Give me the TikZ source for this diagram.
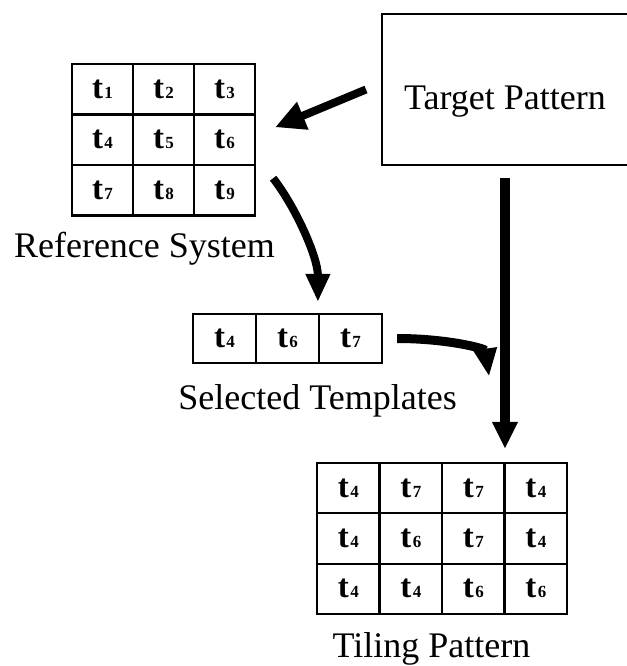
\documentclass[tikz,border=0pt]{standalone}
\usepackage{fontspec}
\setmainfont{Liberation Serif}
\usetikzlibrary{arrows.meta}

% one template label: a large bold t followed by a small bold index
\newcommand\tcell[1]{{\fontsize{33}{34}\selectfont\bfseries t}{\fontsize{17}{18}\selectfont\bfseries\kern1.5pt#1}}

\begin{document}
\begin{tikzpicture}[x=1pt,y=-1pt,
  cell/.style={draw=black, line width=2.2pt, inner sep=0pt, anchor=center},
  refcell/.style={cell, minimum width=61pt, minimum height=50.5pt},
  selcell/.style={cell, minimum width=63pt, minimum height=49pt},
  tilecell/.style={cell, minimum width=62.5pt, minimum height=50.3pt},
  lbl/.style={font=\fontsize{36}{40}\selectfont, anchor=base, inner sep=0pt},
  bigbox/.style={draw=black, line width=2pt, inner sep=0pt, minimum width=246pt,
    minimum height=151pt, font=\fontsize{36}{40}\selectfont, text height=41pt, text depth=0pt},
  slantarrow/.style={line width=8pt, -{Triangle[length=30pt,width=28pt]}},
  bendarrow/.style={line width=8pt, -{Triangle[length=28pt,width=23pt]}},
  downarrow/.style={line width=10.5pt, -{Triangle[length=27pt,width=24pt]}},
  joinarrow/.style={line width=9pt, -{Triangle[length=28pt,width=22pt]}}]

\useasboundingbox (0,0) rectangle (626,666);

% target pattern box (its right side runs off the page)
\node[bigbox] (target) at (505,89.5) {Target Pattern\hspace{12pt}};

% reference system: 3 x 3 grid of templates
\foreach \r/\c/\v in {1/1/1,1/2/2,1/3/3,2/1/4,2/2/5,2/3/6,3/1/7,3/2/8,3/3/9}
  \node[refcell] (ref-\r-\c) at ({72+61*(\c-0.5)},{64+50.5*(\r-0.5)}) {\tcell{\v}};
\node[lbl] (refname) at (144.5,257) {Reference System};

% selected templates: one row
\foreach \c/\v in {1/4,2/6,3/7}
  \node[selcell] (sel-\c) at ({193+63*(\c-0.5)},338.5) {\tcell{\v}};
\node[lbl] (selname) at (317.5,409) {Selected Templates};

% tiling pattern: 3 x 4 grid
\foreach \r/\c/\v in {1/1/4,1/2/7,1/3/7,1/4/4,
                      2/1/4,2/2/6,2/3/7,2/4/4,
                      3/1/4,3/2/4,3/3/6,3/4/6}
  \node[tilecell] (tile-\r-\c) at ({317+62.5*(\c-0.5)},{463+50.3*(\r-0.5)}) {\tcell{\v}};
\node[lbl] (tilename) at (431.5,657) {Tiling Pattern};

% connectors
\draw[slantarrow] ([xshift=-15pt]target.west) -- ([xshift=19pt,yshift=12.5pt]ref-2-3.east);
\draw[bendarrow] ([xshift=17pt,yshift=12pt]ref-3-3.east)
  .. controls +(22,28) and +(0,-45) .. ([yshift=11pt]sel-3.north west);
\coordinate (vtip) at ([yshift=13pt]tile-1-4.north west);
\draw[downarrow] ([yshift=-12pt]target.south) -- (target.south |- vtip);
\draw[joinarrow] ([xshift=14pt]sel-3.east)
  .. controls +(50,0) and +(-4,-28) .. ([xshift=106pt,yshift=-38pt]sel-3.east);
\end{tikzpicture}
\end{document}
